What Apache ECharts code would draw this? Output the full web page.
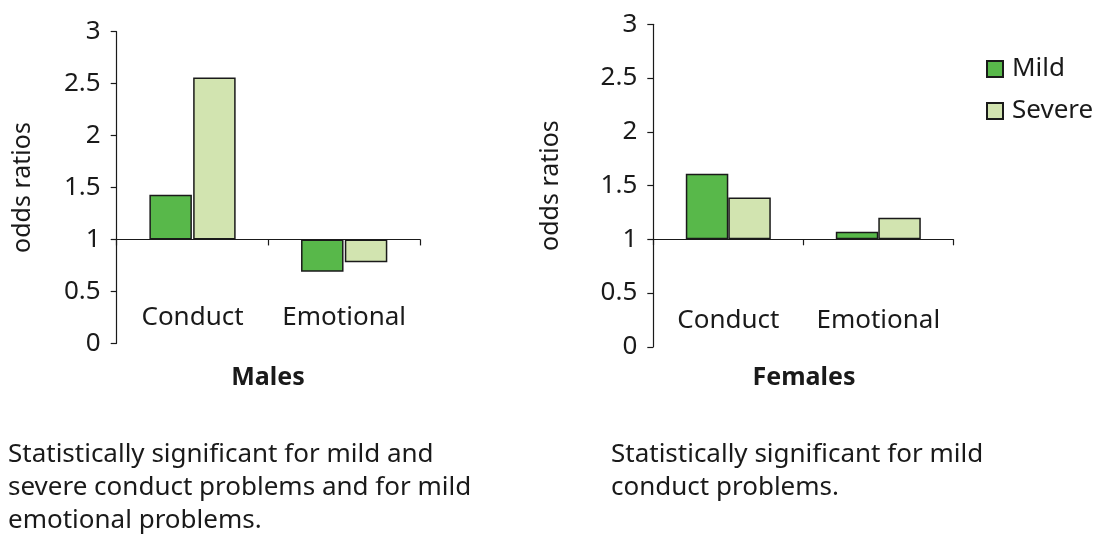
<!DOCTYPE html>
<html><head><meta charset="utf-8">
<script src="https://cdn.jsdelivr.net/npm/echarts@6/dist/echarts.min.js"></script>
<style>html,body{margin:0;padding:0;background:#fff}#c{width:1100px;height:539px}</style>
</head><body><div id="c"></div>
<script>
const categories = ['Conduct', 'Emotional'];
const seriesNames = ['Mild', 'Severe'];
const maleMild = [1.43, 0.69];
const maleSevere = [2.56, 0.78];
const femaleMild = [1.61, 1.07];
const femaleSevere = [1.39, 1.20];
const panelTitles = ['Males', 'Females'];
const notes = [
  'Statistically significant for mild and\nsevere conduct problems and for mild\nemotional problems.',
  'Statistically significant for mild\nconduct problems.'
];
const BASE = 1; // bars grow from odds ratio 1
const FONT = '"Noto Sans", sans-serif';
const colMild = '#58b84a', colSevere = '#d2e4b0', ink = '#1a1a1a';

const shift = arr => arr.map(v => +(v - BASE).toFixed(4));
const fmt = v => String(Math.round((v + BASE) * 10) / 10);

function yAx(idx, gap) {
  return {
    type: 'value', gridIndex: idx, min: -1, max: 2, interval: 0.5,
    splitLine: {show: false},
    axisLine: {show: true, lineStyle: {color: ink, width: 1.2}},
    axisTick: {show: true, inside: false, length: 6, lineStyle: {color: ink, width: 1.2}},
    axisLabel: {formatter: fmt, color: ink, fontSize: 26, fontFamily: FONT, margin: 16},
    name: 'odds ratios', nameLocation: 'middle', nameRotate: 90, nameGap: gap,
    nameTextStyle: {color: ink, fontSize: 25, fontFamily: FONT}
  };
}
function xAx(idx) {
  return {
    type: 'category', gridIndex: idx, data: categories,
    axisLine: {show: true, onZero: true, lineStyle: {color: ink, width: 1.2}},
    axisTick: {show: true, length: 6, lineStyle: {color: ink, width: 1.2}},
    axisLabel: {color: ink, fontSize: 26, fontFamily: FONT, margin: -39, interval: 0, hideOverlap: false}
  };
}
function bar(name, data, idx, color, gap) {
  return {
    name, type: 'bar', xAxisIndex: idx, yAxisIndex: idx, data: shift(data),
    barWidth: 42.5, barGap: gap,
    itemStyle: {color, borderColor: ink, borderWidth: 1.5}
  };
}

const chart = echarts.init(document.getElementById('c'));
chart.setOption({
  animation: false,
  grid: [
    {left: 116.7, top: 31.7, width: 303.3, height: 311.6},
    {left: 653.3, top: 24.3, width: 300, height: 322.5}
  ],
  xAxis: [xAx(0), xAx(1)],
  yAxis: [yAx(0, 81), yAx(1, 90)],
  legend: {
    orient: 'vertical', left: 986, top: 56, icon: 'rect', padding: 0,
    itemWidth: 16, itemHeight: 16, itemGap: 16,
    data: seriesNames,
    itemStyle: {borderWidth: 2, borderColor: ink},
    textStyle: {color: ink, fontSize: 26, fontFamily: FONT, padding: [0, 0, 0, 4]}
  },
  title: [
    {text: panelTitles[0], left: 263, top: 360, textAlign: 'center',
     textStyle: {fontSize: 25, fontWeight: 'bold', color: ink, fontFamily: FONT}},
    {text: panelTitles[1], left: 799, top: 360, textAlign: 'center',
     textStyle: {fontSize: 25, fontWeight: 'bold', color: ink, fontFamily: FONT}}
  ],
  graphic: [
    {type: 'text', left: 8, top: 438, style: {text: notes[0], fill: ink, font: '26px ' + FONT, lineHeight: 33}},
    {type: 'text', left: 611, top: 438, style: {text: notes[1], fill: ink, font: '26px ' + FONT, lineHeight: 33}}
  ],
  series: [
    bar(seriesNames[0], maleMild, 0, colMild, '3%'),
    bar(seriesNames[1], maleSevere, 0, colSevere, '3%'),
    bar(seriesNames[0], femaleMild, 1, colMild, '0%'),
    bar(seriesNames[1], femaleSevere, 1, colSevere, '0%')
  ]
});
</script></body></html>
